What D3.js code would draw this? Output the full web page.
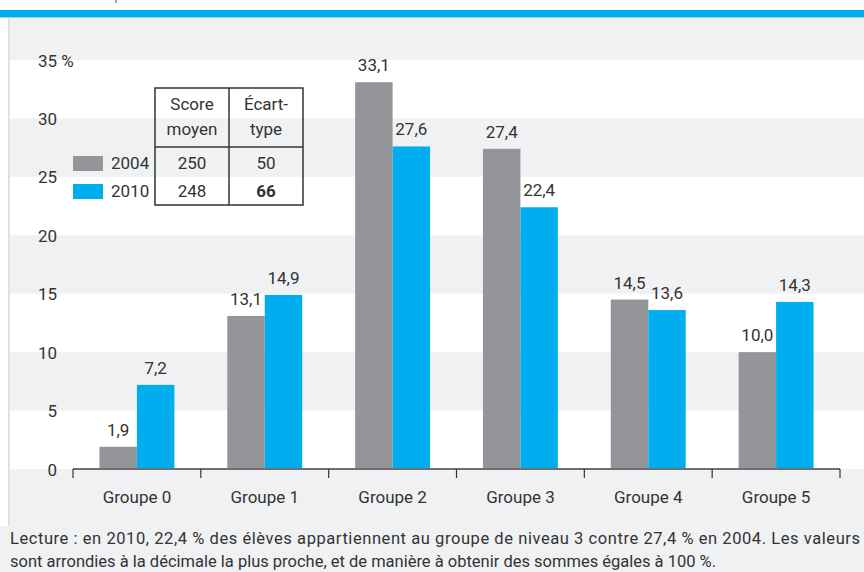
<!DOCTYPE html>
<html lang="fr">
<head>
    <meta charset="UTF-8">
    <title>Groupes de niveau 2004 / 2010</title>
    <script src="https://d3js.org/d3.v7.min.js"></script>
    <style>
        body { margin: 0; background: #fff; }
        text { font-family: Roboto, "Liberation Sans", Arial, sans-serif; fill: #333; }
        .tick text { font-size: 17px; }
        .lbl { font-size: 17px; text-anchor: middle; }
    </style>
</head>
<body>
    <script>
        const categories = ["Groupe 0", "Groupe 1", "Groupe 2", "Groupe 3", "Groupe 4", "Groupe 5"];
        const years = ["2004", "2010"];
        const values2004 = [1.9, 13.1, 33.1, 27.4, 14.5, 10.0];
        const values2010 = [7.2, 14.9, 27.6, 22.4, 13.6, 14.3];
        const yTicks = [0, 5, 10, 15, 20, 25, 30, 35];
        const tableHead = [["Score", "moyen"], ["Écart-", "type"]];
        const scores = [250, 248];
        const stdDevs = [50, 66];

        const W = 864, H = 572;
        const colors = { "2004": "#939598", "2010": "#00aeef" };
        const fr = d3.formatLocale({ decimal: ",", thousands: " ", grouping: [3], currency: ["", " €"] });
        const fmt = fr.format(".1f");

        const svg = d3.select("body").append("svg")
            .attr("width", W)
            .attr("height", H);

        // fond
        svg.append("rect").attr("x", 0).attr("y", 18).attr("width", W).attr("height", H - 18).attr("fill", "#f0f1f3");
        svg.append("rect").attr("x", 0).attr("y", 18).attr("width", 8).attr("height", 508).attr("fill", "#fff");
        svg.append("rect").attr("x", 8).attr("y", 18).attr("width", 1.5).attr("height", 508).attr("fill", "#dcdde0");
        svg.append("rect").attr("x", 0).attr("y", 10).attr("width", W).attr("height", 8).attr("fill", "#00aeef");
        svg.append("rect").attr("x", 0).attr("y", 17).attr("width", W).attr("height", 1).attr("fill", "#8fd8f5");
        svg.append("line").attr("x1", 116).attr("x2", 116).attr("y1", 0).attr("y2", 3)
            .attr("stroke", "#555").attr("stroke-width", 1);

        const x = d3.scaleBand().domain(categories).range([73, 840]).paddingInner(0.414).paddingOuter(0.207);
        const xs = d3.scaleBand().domain(years).range([0, x.bandwidth()]);
        const y = d3.scaleLinear().domain([0, 35]).range([469, 60]);

        // bandes blanches
        const bands = d3.pairs(yTicks).filter((d, i) => i % 2 === 0);
        svg.append("g").selectAll("rect").data(bands).join("rect")
            .attr("x", 10).attr("width", W - 10)
            .attr("y", d => y(d[1])).attr("height", d => y(d[0]) - y(d[1]))
            .attr("fill", "#fff");

        // axe Y
        const yAxis = svg.append("g").attr("transform", "translate(57,0)")
            .call(d3.axisLeft(y).tickValues(yTicks).tickSize(0).tickPadding(0));
        yAxis.select(".domain").remove();
        yAxis.selectAll(".tick text").attr("font-family", null).attr("dy", "0.36em");
        yAxis.selectAll(".tick").filter(d => d === 35).append("text")
            .attr("x", 0).attr("dy", "0.36em").attr("text-anchor", "start")
            .style("font-size", "17px").text("\u00a0%");

        // barres
        const series = [values2004, values2010];
        const groups = svg.append("g").selectAll("g").data(years).join("g")
            .attr("fill", d => colors[d]);
        groups.each(function (yr, k) {
            d3.select(this).selectAll("rect").data(series[k]).join("rect")
                .attr("x", (d, i) => x(categories[i]) + xs(yr))
                .attr("width", xs.bandwidth())
                .attr("y", d => y(d))
                .attr("height", d => y(0) - y(d));
            svg.append("g").selectAll("text").data(series[k]).join("text")
                .attr("class", "lbl")
                .attr("x", (d, i) => x(categories[i]) + xs(yr) + xs.bandwidth() / 2)
                .attr("y", d => y(d) - 11)
                .text(d => fmt(d));
        });

        // axe X
        svg.append("line").attr("x1", 73).attr("x2", 840).attr("y1", 469).attr("y2", 469)
            .attr("stroke", "#6d6e71").attr("stroke-width", 2);
        const bounds = d3.range(categories.length + 1).map(i => 73 + i * x.step());
        svg.append("g").selectAll("line").data(bounds).join("line")
            .attr("x1", d => d).attr("x2", d => d).attr("y1", 469).attr("y2", 478)
            .attr("stroke", "#333").attr("stroke-width", 1.2);
        const xAxis = svg.append("g").attr("transform", "translate(0,469)")
            .call(d3.axisBottom(x).tickSize(0).tickPadding(0));
        xAxis.select(".domain").remove();
        xAxis.selectAll(".tick text").attr("font-family", null).attr("y", 34).attr("dy", 0);

        // légende + tableau
        const tb = svg.append("g");
        const cols = [155, 229, 303];
        const rows = [88, 147, 205];
        tb.append("rect").attr("x", cols[0]).attr("y", rows[0])
            .attr("width", cols[2] - cols[0]).attr("height", rows[2] - rows[0])
            .attr("fill", "none").attr("stroke", "#333").attr("stroke-width", 1.5);
        tb.append("line").attr("x1", cols[1]).attr("x2", cols[1]).attr("y1", rows[0]).attr("y2", rows[2])
            .attr("stroke", "#333").attr("stroke-width", 1.5);
        tb.append("line").attr("x1", cols[0]).attr("x2", cols[2]).attr("y1", rows[1]).attr("y2", rows[1])
            .attr("stroke", "#333").attr("stroke-width", 1.5);
        tableHead.forEach((h, c) => {
            h.forEach((t, j) => {
                tb.append("text").attr("class", "lbl")
                    .attr("x", (cols[c] + cols[c + 1]) / 2).attr("y", 110 + j * 25).text(t);
            });
        });
        years.forEach((yr, i) => {
            const by = 169 + i * 28;
            tb.append("rect").attr("x", 73).attr("y", by - 13).attr("width", 30).attr("height", 15)
                .attr("fill", colors[yr]);
            tb.append("text").attr("x", 111).attr("y", by).style("font-size", "17px").text(yr);
            tb.append("text").attr("class", "lbl").attr("x", (cols[0] + cols[1]) / 2).attr("y", by).text(scores[i]);
            tb.append("text").attr("class", "lbl").attr("x", (cols[1] + cols[2]) / 2).attr("y", by)
                .attr("font-weight", i === 1 ? "bold" : null).text(stdDevs[i]);
        });

        // note
        svg.append("text").attr("x", 10).attr("y", 544).style("font-size", "16.5px")
            .attr("textLength", 850).attr("lengthAdjust", "spacing")
            .text("Lecture : en 2010, 22,4 % des élèves appartiennent au groupe de niveau 3 contre 27,4 % en 2004. Les valeurs");
        svg.append("text").attr("x", 10).attr("y", 567).style("font-size", "16.5px")
            .attr("textLength", 706).attr("lengthAdjust", "spacingAndGlyphs")
            .text("sont arrondies à la décimale la plus proche, et de manière à obtenir des sommes égales à 100 %.");
    </script>
</body>
</html>
